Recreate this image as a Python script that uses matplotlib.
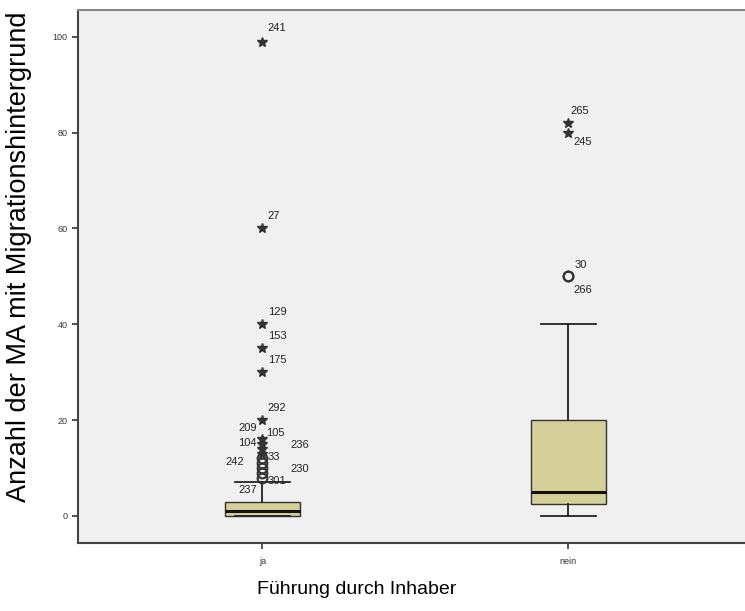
import matplotlib
matplotlib.use("Agg")
import matplotlib.pyplot as plt

plt.rcParams['font.family'] = ['Liberation Sans', 'DejaVu Sans']

# box statistics per group
groups = ['ja', 'nein']
q1 = [0, 2.5]
med = [1, 5]
q3 = [3, 20]
whis_lo = [0, 0]
whis_hi = [7, 40]

# outliers: (group index, value, case label, kind)
out_group = [0, 0, 0, 0, 0, 0, 0, 0, 0, 0, 0, 0, 0, 0, 0, 1, 1, 1, 1]
out_value = [99, 60, 40, 35, 30, 20, 16, 15, 14, 13, 12, 11, 10, 9, 8, 82, 80, 50, 50]
out_label = ['241', '27', '129', '153', '175', '292', '209', '105', '104', '236',
             '33', '242', '230', '301', '237', '265', '245', '30', '266']
out_kind = ['*', '*', '*', '*', '*', '*', '*', '*', '*', '*',
            'o', 'o', 'o', 'o', 'o', '*', '*', 'o', 'o']

# label placement (points offset, horizontal alignment)
label_pos = [(4, 10, 'left'), (4, 9, 'left'), (4, 9, 'left'), (4, 9, 'left'),
             (4, 9, 'left'), (4, 9, 'left'), (-4, 8, 'right'), (3, 8, 'left'),
             (-4, 4, 'right'), (20, 6, 'left'), (4, 1, 'left'), (-13, 1, 'right'),
             (20, -1, 'left'), (4, -6, 'left'), (-4, -9, 'right'),
             (2, 9, 'left'), (4, -7, 'left'), (5, 8, 'left'), (4, -10, 'left')]

fig = plt.figure(figsize=(7.45, 6.11), dpi=100)
ax = fig.add_axes([78 / 745, (611 - 543) / 611, 1 - 78 / 745 + 0.01, (543 - 10) / 611])
ax.set_facecolor('#f0f0f0')

stats = []
for i, g in enumerate(groups):
    stats.append(dict(label=g, q1=q1[i], med=med[i], q3=q3[i],
                      whislo=whis_lo[i], whishi=whis_hi[i], fliers=[]))

ax.bxp(stats, positions=[1, 2], widths=0.245, patch_artist=True, showfliers=False,
       boxprops=dict(facecolor='#d5d09a', edgecolor='#333333', linewidth=1.0),
       medianprops=dict(color='#111111', linewidth=2.2),
       whiskerprops=dict(color='#222222', linewidth=1.3),
       capprops=dict(color='#222222', linewidth=1.3), capwidths=0.18)

for g, v, lab, k, (dx, dy, ha) in zip(out_group, out_value, out_label, out_kind, label_pos):
    x = g + 1
    if k == '*':
        ax.plot(x, v, marker='*', color='#333333', markersize=7, linestyle='none')
    else:
        ax.plot(x, v, marker='o', markerfacecolor='none', markeredgecolor='#333333',
                markeredgewidth=1.5, markersize=7, linestyle='none')
    ax.annotate(lab, (x, v), xytext=(dx, dy), textcoords='offset points',
                ha=ha, va='center', fontsize=8, color='#222222')

ax.set_xlim(0.397, 2.57 + 0.033)
ax.set_ylim(-5.64, 105.6)
ax.set_xticks([1, 2])
ax.set_xticklabels(groups, fontsize=6.5)
ax.set_yticks([0, 20, 40, 60, 80, 100])
ax.tick_params(axis='both', direction='out', length=4, width=1.2, colors='#333333',
               labelsize=6.5)
ax.tick_params(axis='x', pad=6)

for s in ['left', 'bottom']:
    ax.spines[s].set_color('#444444')
    ax.spines[s].set_linewidth(1.5)
ax.spines['top'].set_color('#888888')
ax.spines['top'].set_linewidth(1.5)
ax.spines['right'].set_visible(False)

fig.text(357 / 745, 1 - 590 / 611, 'Führung durch Inhaber', ha='center', va='center',
         fontsize=14)
fig.text(19 / 745, 1 - 257 / 611, 'Anzahl der MA mit Migrationshintergrund', rotation=90,
         ha='center', va='center', fontsize=19.5)

fig.savefig('out.png', dpi=100, facecolor='white')
